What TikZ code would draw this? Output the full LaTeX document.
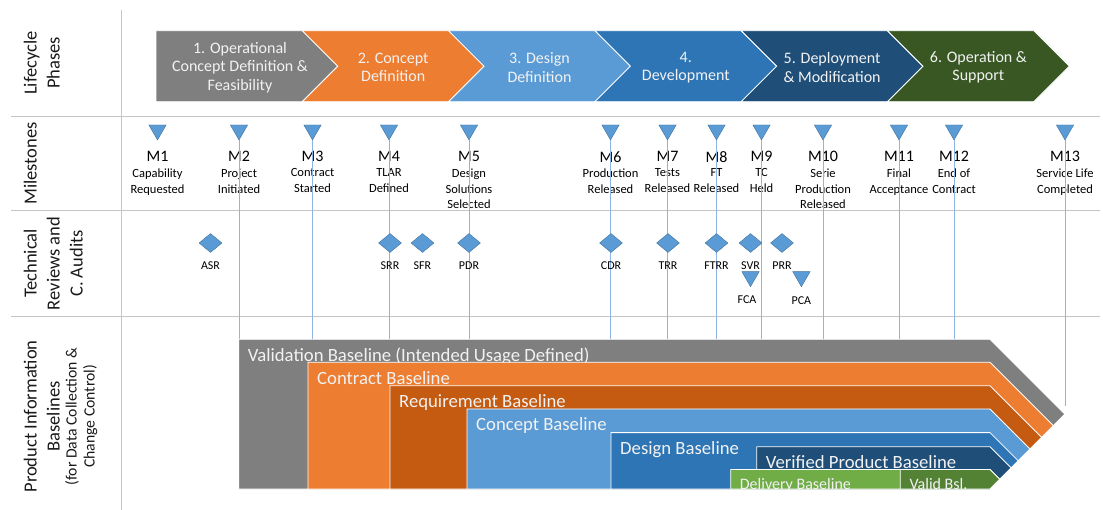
\documentclass[tikz,border=0pt]{standalone}
\usepackage{fontspec}
\setmainfont{Carlito}
\usepackage{xcolor}
\definecolor{gridLine}{HTML}{C4C4C4}
\definecolor{phaseGray}{HTML}{7F7F7F}
\definecolor{phaseOrange}{HTML}{ED7D31}
\definecolor{phaseRust}{HTML}{C55A11}
\definecolor{phaseSky}{HTML}{5B9BD5}
\definecolor{phaseBlue}{HTML}{2E75B6}
\definecolor{phaseNavy}{HTML}{1F4E79}
\definecolor{phaseForest}{HTML}{385723}
\definecolor{phaseLime}{HTML}{70AD47}
\definecolor{phaseGreen}{HTML}{548235}
\definecolor{markFill}{HTML}{5B9BD5}
\definecolor{markEdge}{HTML}{41719C}
\definecolor{markLine}{HTML}{8DB4E2}
\definecolor{labelText}{HTML}{F2F2F2}
\usetikzlibrary{shapes.geometric}

\tikzset{
  rowTitle/.style={rotate=90, anchor=north, align=center, inner sep=0pt, text=black!90,
    font=\fontsize{18.5}{23}\selectfont},
  rowNote/.style={rowTitle, font=\fontsize{15.7}{18}\selectfont},
  msMark/.style={regular polygon, regular polygon sides=3, shape border rotate=180,
    minimum size=20pt, inner sep=0pt, fill=markFill, draw=markEdge, line width=0.4pt},
  revMark/.style={diamond, minimum width=23pt, minimum height=19pt, inner sep=0pt,
    fill=markFill, draw=markEdge, line width=0.4pt},
  msNum/.style={inner sep=0pt, font=\fontsize{16}{19}\selectfont},
  msText/.style={anchor=north, align=center, inner sep=0pt, font=\fontsize{12.5}{15.8}\selectfont},
  revText/.style={inner sep=0pt, font=\fontsize{12}{14}\selectfont},
  phaseText/.style={align=center, inner sep=0pt, text=labelText, font=\fontsize{16}{18.5}\selectfont},
  barText/.style={anchor=base west, inner sep=0pt, text=labelText, font=\fontsize{18.7}{22}\selectfont},
  msLine/.style={draw=markLine, line width=0.7pt},
}

\begin{document}
\begin{tikzpicture}[x=1pt, y=-1pt]
  \useasboundingbox (0,0) rectangle (1103,510);

  % table lines
  \draw[gridLine, line width=0.9pt] (121.7,10) -- (121.7,510);
  \foreach \y in {116,210.7,316.7}
    \draw[gridLine, line width=0.9pt] (11,\y) -- (1100,\y);

  \node[rowTitle] (rowPhases) at (23.5,63) {Lifecycle\\Phases};
  \node[rowTitle] (rowMilestones) at (23.5,163.5) {Milestones};
  \node[rowTitle] (rowReviews) at (23.5,263.5) {Technical\\Reviews and\\C. Audits};
  \node[rowTitle] (rowBaselines) at (23.5,416.5) {Product Information\\Baselines};
  \node[rowNote] (rowBaselinesNote) at (65,416.5) {(for Data Collection \&\\Change Control)};

  % lifecycle phases
  \foreach \i/\nd/\col/\tx/\txt in {
      1/0/phaseGray/240/{1. Operational\\Concept Definition \&\\Feasibility},
      2/35.5/phaseOrange/393.2/{2. Concept\\Definition},
      3/35.5/phaseSky/539.5/{3. Design\\Definition},
      4/35.5/phaseBlue/685.8/{4.\\Development},
      5/35.5/phaseNavy/832.1/{5. Deployment\\\& Modification},
      6/35.5/phaseForest/978.4/{6. Operation \&\\Support}} {
    \pgfmathsetmacro\xs{156+146.3*(\i-1)}
    \filldraw[fill=\col, draw=white, line width=0.8pt]
      (\xs,30.7) -- (\xs+146.3,30.7) -- (\xs+181.8,66.2) -- (\xs+146.3,101.7)
      -- (\xs,101.7) -- (\xs+\nd,66.2) -- cycle;
    \node[phaseText] (phase\i) at (\tx,67.5) {\txt};
  }

  % milestones
  \foreach \n/\x/\txt in {
      1/157.5/{Capability\\Requested}, 2/239/{Project\\Initiated},
      3/312.5/{Contract\\Started}, 4/389/{TLAR\\Defined},
      5/469/{Design\\Solutions\\Selected}, 6/610.5/{Production\\Released},
      7/667.5/{Tests\\Released}, 8/716.5/{FT\\Released}, 9/761.5/{TC\\Held},
      10/823/{Serie\\Production\\Released}, 11/899/{Final\\Acceptance},
      12/954/{End of\\Contract}, 13/1065/{Service Life\\Completed}} {
    \node[msMark] (m\n) at (\x,130) {};
    \node[msNum] (m\n num) at (\x,156.7) {M\n};
    \node[msText] (m\n txt) at (\x,168.5) {\txt};
  }

  \coordinate (vbTop) at (0,340);
  \coordinate (vbEdge) at (0,406);
  \foreach \n in {2,...,12}
    \draw[msLine] (m\n.south) -- (m\n.south |- vbTop);
  \draw[msLine] (m13.south) -- (m13.south |- vbEdge);

  % technical reviews and audits
  \foreach \r/\x in {ASR/210.5, SRR/390, SFR/422.5, PDR/469, CDR/611,
      TRR/668, FTRR/716.5, SVR/750.5, PRR/782} {
    \node[revMark] (\r) at (\x,243) {};
    \node[revText] (\r txt) at (\x,265.5) {\r};
  }
  \node[msMark] (FCA) at (750.5,276.7) {};
  \node[revText] (FCA txt) at (747,300) {FCA};
  \node[msMark] (PCA) at (801.4,276.7) {};
  \node[revText] (PCA txt) at (801.4,300.5) {PCA};

  % product information baselines
  \foreach \lx/\ty/\col/\txt [count=\k] in {
      238.6/339.3/phaseGray/{Validation Baseline (Intended Usage Defined)},
      308/362.3/phaseOrange/{Contract Baseline},
      390/385.7/phaseRust/{Requirement Baseline},
      467/409/phaseSky/{Concept Baseline},
      611/432.6/phaseBlue/{Design Baseline},
      756.7/446.7/phaseNavy/{Verified Product Baseline}} {
    \pgfmathsetmacro\hd{(489-\ty)/2}
    \filldraw[fill=\col, draw=white, line width=0.8pt]
      (\lx,\ty) -- (990,\ty) -- (990+\hd,\ty+\hd) -- (990,489) -- (\lx,489) -- cycle;
    \node[barText] (base\k) at (\lx+9,\ty+22) {\txt};
  }
  \filldraw[fill=phaseLime, draw=white, line width=0.8pt]
    (730.7,469.5) -- (990,469.5) -- (999.75,479.25) -- (990,489) -- (730.7,489) -- cycle;
  \filldraw[fill=phaseGreen, draw=white, line width=0.8pt]
    (900.3,469.5) -- (990,469.5) -- (999.75,479.25) -- (990,489) -- (900.3,489) -- cycle;
  \begin{scope}
    \clip (730.7,469.5) rectangle (1000,489);
    \node[barText, font=\fontsize{16}{19}\selectfont] (delivery) at (739.7,489) {Delivery Baseline};
    \node[barText, font=\fontsize{16}{19}\selectfont] (validBsl) at (909.3,489) {Valid Bsl.};
  \end{scope}
\end{tikzpicture}
\end{document}
